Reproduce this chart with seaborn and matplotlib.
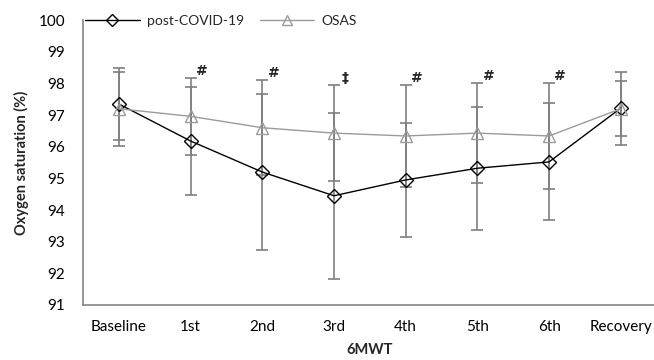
import numpy as np
import pandas as pd
import matplotlib.pyplot as plt
import seaborn as sns

# values
stages = ["Baseline", "1st", "2nd", "3rd", "4th", "5th", "6th", "Recovery"]
covid_mean = [97.35, 96.18, 95.20, 94.45, 94.95, 95.32, 95.52, 97.22]
covid_sd = [1.15, 1.72, 2.46, 2.63, 1.80, 1.95, 1.85, 1.15]
osas_mean = [97.20, 96.96, 96.60, 96.43, 96.34, 96.43, 96.34, 97.20]
osas_sd = [1.17, 1.22, 1.50, 1.52, 1.60, 1.57, 1.67, 0.87]
sig_marks = ["", "#", "#", "\u2021", "#", "#", "#", ""]

x = np.arange(len(stages))
df = pd.concat([
    pd.DataFrame({"x": x, "sat": covid_mean, "sd": covid_sd, "group": "post-COVID-19"}),
    pd.DataFrame({"x": x, "sat": osas_mean, "sd": osas_sd, "group": "OSAS"}),
])

sns.set_style("white")
plt.rcParams['font.family'] = ['Lato', 'DejaVu Sans']

fig = plt.figure(figsize=(6.54, 3.6), dpi=100)
ax = fig.add_axes([0.127, 0.153, 0.877, 0.791])

err_color = '#7f7f7f'
styles = {
    "post-COVID-19": dict(color='black', marker='D', ms=7.5, lw=1.0),
    "OSAS": dict(color='#9b9b9b', marker='^', ms=9, lw=1.0),
}

# error bars behind the lines
for grp, sub in df.groupby("group", sort=False):
    ax.errorbar(sub["x"], sub["sat"], yerr=sub["sd"], fmt='none',
                ecolor=err_color, elinewidth=1.2, capsize=4.3, capthick=1.2, zorder=1)

for grp, sub in df.groupby("group", sort=False):
    st = styles[grp]
    sns.lineplot(data=sub, x="x", y="sat", ax=ax, color=st['color'], lw=st['lw'],
                 marker=st['marker'], markersize=st['ms'], markerfacecolor='none',
                 markeredgecolor=st['color'], markeredgewidth=1.0, label=grp, zorder=3)

# significance symbols above the tallest error bar
for i, mark in enumerate(sig_marks):
    if not mark:
        continue
    top = max(covid_mean[i] + covid_sd[i], osas_mean[i] + osas_sd[i])
    ax.annotate(mark, (x[i], top), xytext=(8, 0), textcoords='offset points',
                ha='center', va='bottom', fontsize=10, fontweight='bold',
                family=['DejaVu Sans'])

ax.set_xlim(-0.5, len(stages) - 0.5)
ax.set_ylim(91, 100)
ax.set_yticks(range(91, 101))
ax.set_xticks(x)
ax.set_xticklabels(stages)
ax.tick_params(axis='both', length=0, labelsize=11, colors='black')
ax.tick_params(axis='y', pad=13)
ax.tick_params(axis='x', pad=11)

ax.set_xlabel("6MWT", fontsize=10.5, fontweight='bold', labelpad=6)
ax.set_ylabel("Oxygen saturation (%)", fontsize=10.5, fontweight='bold', labelpad=7)

sns.despine(ax=ax)
for side in ['left', 'bottom']:
    ax.spines[side].set_color('#868686')
    ax.spines[side].set_linewidth(1.2)

ax.legend(loc='upper left', bbox_to_anchor=(0.122, 0.975), bbox_transform=fig.transFigure,
          ncol=2, frameon=False, fontsize=10, handlelength=3.9, handletextpad=0.55,
          columnspacing=1.1, borderaxespad=0, markerscale=0.75)

fig.savefig("out.png", dpi=100)
